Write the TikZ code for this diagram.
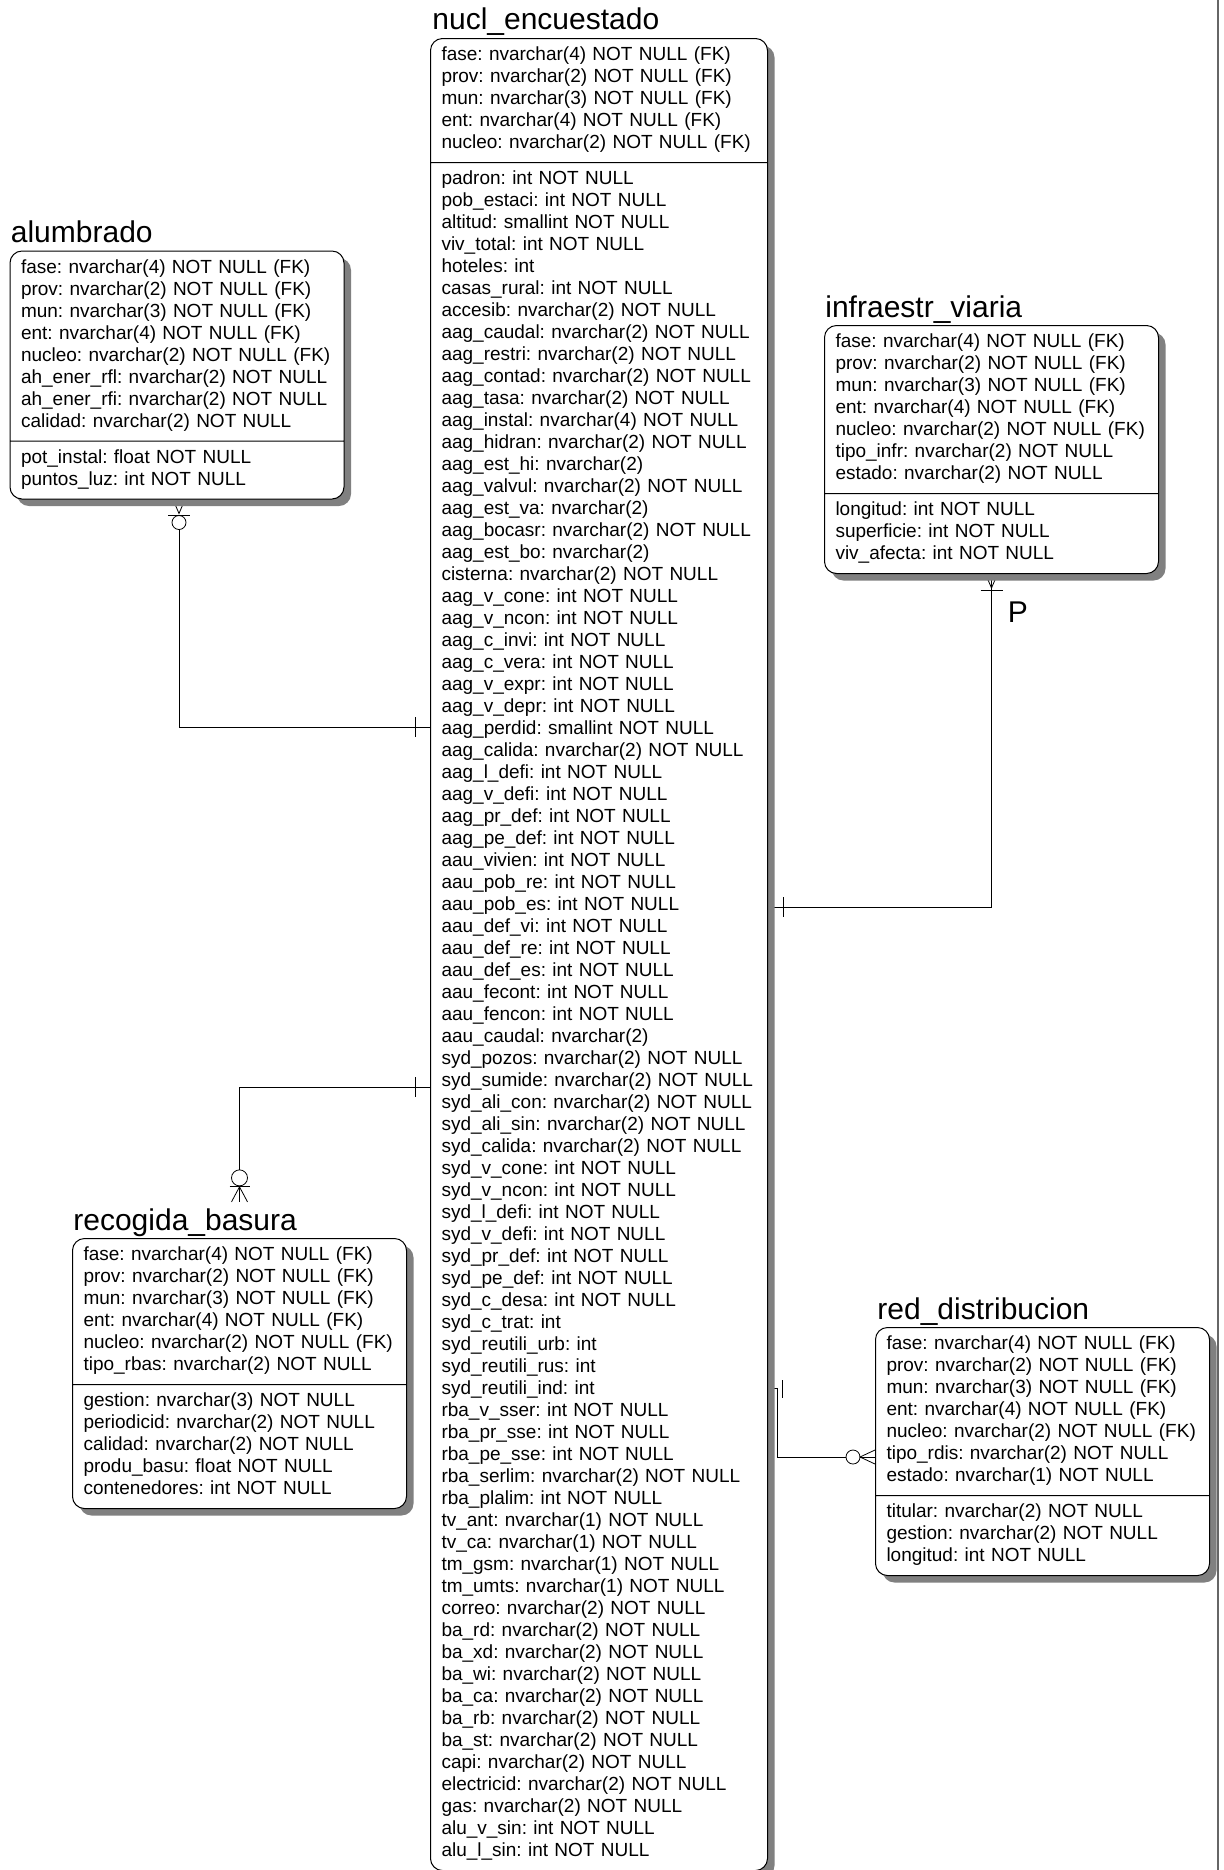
\documentclass[tikz,border=0pt]{standalone}
\usepackage{fontspec}
\setmainfont{Liberation Sans}
\usetikzlibrary{shapes.multipart,shadows,backgrounds}

\tikzset{
  entity/.style={rectangle split, rectangle split parts=2, draw=black, line width=0.5pt,
    fill=white, rounded corners=6pt, anchor=north west, align=left, text width=156pt,
    inner xsep=5.5pt, inner ysep=3.25pt, font=\fontsize{9.5}{11}\selectfont\frenchspacing,
    drop shadow={shadow xshift=3.5pt, shadow yshift=-3.5pt, fill=black!50, opacity=1}},
  etitle/.style={anchor=base west, inner sep=0pt, font=\fontsize{15}{18}\selectfont},
  rel/.style={draw=black!75, line width=0.5pt},
}

\begin{document}
\begin{tikzpicture}[x=0.5pt,y=-0.5pt,line join=round,line cap=round]
  \useasboundingbox (0,0) rectangle (1223,1870);

  % ---- le entita' ---------------------------------------------------------
  \node[entity, text width=157.5pt] (nucl) at (430,38) {\strut fase: nvarchar(4) NOT NULL (FK)\\
    prov: nvarchar(2) NOT NULL (FK)\\ mun: nvarchar(3) NOT NULL (FK)\\
    ent: nvarchar(4) NOT NULL (FK)\\ nucleo: nvarchar(2) NOT NULL (FK)\strut
    \nodepart{two}\strut padron: int NOT NULL\\ pob\_estaci: int NOT NULL\\
    altitud: smallint NOT NULL\\ viv\_total: int NOT NULL\\ hoteles: int\\
    casas\_rural: int NOT NULL\\ accesib: nvarchar(2) NOT NULL\\
    aag\_caudal: nvarchar(2) NOT NULL\\ aag\_restri: nvarchar(2) NOT NULL\\
    aag\_contad: nvarchar(2) NOT NULL\\ aag\_tasa: nvarchar(2) NOT NULL\\
    aag\_instal: nvarchar(4) NOT NULL\\ aag\_hidran: nvarchar(2) NOT NULL\\
    aag\_est\_hi: nvarchar(2)\\ aag\_valvul: nvarchar(2) NOT NULL\\
    aag\_est\_va: nvarchar(2)\\ aag\_bocasr: nvarchar(2) NOT NULL\\
    aag\_est\_bo: nvarchar(2)\\ cisterna: nvarchar(2) NOT NULL\\
    aag\_v\_cone: int NOT NULL\\ aag\_v\_ncon: int NOT NULL\\
    aag\_c\_invi: int NOT NULL\\ aag\_c\_vera: int NOT NULL\\
    aag\_v\_expr: int NOT NULL\\ aag\_v\_depr: int NOT NULL\\
    aag\_perdid: smallint NOT NULL\\ aag\_calida: nvarchar(2) NOT NULL\\
    aag\_l\_defi: int NOT NULL\\ aag\_v\_defi: int NOT NULL\\
    aag\_pr\_def: int NOT NULL\\ aag\_pe\_def: int NOT NULL\\
    aau\_vivien: int NOT NULL\\ aau\_pob\_re: int NOT NULL\\
    aau\_pob\_es: int NOT NULL\\ aau\_def\_vi: int NOT NULL\\
    aau\_def\_re: int NOT NULL\\ aau\_def\_es: int NOT NULL\\
    aau\_fecont: int NOT NULL\\ aau\_fencon: int NOT NULL\\
    aau\_caudal: nvarchar(2)\\ syd\_pozos: nvarchar(2) NOT NULL\\
    syd\_sumide: nvarchar(2) NOT NULL\\ syd\_ali\_con: nvarchar(2) NOT NULL\\
    syd\_ali\_sin: nvarchar(2) NOT NULL\\ syd\_calida: nvarchar(2) NOT NULL\\
    syd\_v\_cone: int NOT NULL\\ syd\_v\_ncon: int NOT NULL\\
    syd\_l\_defi: int NOT NULL\\ syd\_v\_defi: int NOT NULL\\
    syd\_pr\_def: int NOT NULL\\ syd\_pe\_def: int NOT NULL\\
    syd\_c\_desa: int NOT NULL\\ syd\_c\_trat: int\\ syd\_reutili\_urb: int\\
    syd\_reutili\_rus: int\\ syd\_reutili\_ind: int\\ rba\_v\_sser: int NOT NULL\\
    rba\_pr\_sse: int NOT NULL\\ rba\_pe\_sse: int NOT NULL\\
    rba\_serlim: nvarchar(2) NOT NULL\\ rba\_plalim: int NOT NULL\\
    tv\_ant: nvarchar(1) NOT NULL\\ tv\_ca: nvarchar(1) NOT NULL\\
    tm\_gsm: nvarchar(1) NOT NULL\\ tm\_umts: nvarchar(1) NOT NULL\\
    correo: nvarchar(2) NOT NULL\\ ba\_rd: nvarchar(2) NOT NULL\\
    ba\_xd: nvarchar(2) NOT NULL\\ ba\_wi: nvarchar(2) NOT NULL\\
    ba\_ca: nvarchar(2) NOT NULL\\ ba\_rb: nvarchar(2) NOT NULL\\
    ba\_st: nvarchar(2) NOT NULL\\ capi: nvarchar(2) NOT NULL\\
    electricid: nvarchar(2) NOT NULL\\ gas: nvarchar(2) NOT NULL\\
    alu\_v\_sin: int NOT NULL\\ alu\_l\_sin: int NOT NULL\strut};
  \node[etitle] (t-nucl) at (432,29) {nucl\_encuestado};

  \node[entity] (alumbrado) at (9.5,250.5) {\strut fase: nvarchar(4) NOT NULL (FK)\\
    prov: nvarchar(2) NOT NULL (FK)\\ mun: nvarchar(3) NOT NULL (FK)\\
    ent: nvarchar(4) NOT NULL (FK)\\ nucleo: nvarchar(2) NOT NULL (FK)\\
    ah\_ener\_rfl: nvarchar(2) NOT NULL\\ ah\_ener\_rfi: nvarchar(2) NOT NULL\\
    calidad: nvarchar(2) NOT NULL\strut
    \nodepart{two}\strut pot\_instal: float NOT NULL\\ puntos\_luz: int NOT NULL\strut};
  \node[etitle] (t-alum) at (10.5,242.5) {alumbrado};

  \node[entity] (infra) at (824,325) {\strut fase: nvarchar(4) NOT NULL (FK)\\
    prov: nvarchar(2) NOT NULL (FK)\\ mun: nvarchar(3) NOT NULL (FK)\\
    ent: nvarchar(4) NOT NULL (FK)\\ nucleo: nvarchar(2) NOT NULL (FK)\\
    tipo\_infr: nvarchar(2) NOT NULL\\ estado: nvarchar(2) NOT NULL\strut
    \nodepart{two}\strut longitud: int NOT NULL\\ superficie: int NOT NULL\\
    viv\_afecta: int NOT NULL\strut};
  \node[etitle] (t-infra) at (825,317) {infraestr\_viaria};

  \node[entity] (recogida) at (72,1238) {\strut fase: nvarchar(4) NOT NULL (FK)\\
    prov: nvarchar(2) NOT NULL (FK)\\ mun: nvarchar(3) NOT NULL (FK)\\
    ent: nvarchar(4) NOT NULL (FK)\\ nucleo: nvarchar(2) NOT NULL (FK)\\
    tipo\_rbas: nvarchar(2) NOT NULL\strut
    \nodepart{two}\strut gestion: nvarchar(3) NOT NULL\\ periodicid: nvarchar(2) NOT NULL\\
    calidad: nvarchar(2) NOT NULL\\ produ\_basu: float NOT NULL\\
    contenedores: int NOT NULL\strut};
  \node[etitle] (t-recog) at (73,1230) {recogida\_basura};

  \node[entity] (red) at (875,1327) {\strut fase: nvarchar(4) NOT NULL (FK)\\
    prov: nvarchar(2) NOT NULL (FK)\\ mun: nvarchar(3) NOT NULL (FK)\\
    ent: nvarchar(4) NOT NULL (FK)\\ nucleo: nvarchar(2) NOT NULL (FK)\\
    tipo\_rdis: nvarchar(2) NOT NULL\\ estado: nvarchar(1) NOT NULL\strut
    \nodepart{two}\strut titular: nvarchar(2) NOT NULL\\ gestion: nvarchar(2) NOT NULL\\
    longitud: int NOT NULL\strut};
  \node[etitle] (t-red) at (877,1319) {red\_distribucion};

  % ---- le relazioni -------------------------------------------------------
  \begin{scope}[on background layer, rel]
    % alumbrado
    \coordinate (al-s) at ([xshift=1pt]alumbrado.south);
    \coordinate (al-n) at (nucl.west |- 0,727);
    \draw ([shift={(0,30)}]al-s) |- (al-n);
    \draw ([shift={(0,23)}]al-s) circle[radius=3.5pt];
    \draw ([shift={(-11,16)}]al-s) -- ([shift={(11,16)}]al-s);
    \draw ([shift={(-6,0)}]al-s) -- ([shift={(0,14)}]al-s) -- ([shift={(6,0)}]al-s);
    \draw ([shift={(-15,-10)}]al-n) -- ([shift={(-15,10)}]al-n);

    % infraestr_viaria
    \coordinate (iv-s) at (infra.south);
    \coordinate (iv-n) at (nucl.east |- 0,907);
    \draw (iv-s) |- (iv-n);
    \draw ([shift={(-6,0)}]iv-s) -- ([shift={(0,14)}]iv-s) -- ([shift={(6,0)}]iv-s);
    \draw ([shift={(-11,16)}]iv-s) -- ([shift={(11,16)}]iv-s);
    \draw ([shift={(15,-10)}]iv-n) -- ([shift={(15,10)}]iv-n);

    % recogida_basura
    \coordinate (rb-e) at ([yshift=3pt]t-recog.north -| recogida.north);
    \coordinate (rb-n) at (nucl.west |- 0,1087);
    \draw (rb-n) -| ([shift={(0,-32)}]rb-e);
    \draw ([shift={(0,-24)}]rb-e) circle[radius=4pt];
    \draw ([shift={(-10,-15)}]rb-e) -- ([shift={(10,-15)}]rb-e);
    \draw ([shift={(-8,0)}]rb-e) -- ([shift={(0,-15)}]rb-e) -- ([shift={(8,0)}]rb-e);
    \draw ([shift={(0,-15)}]rb-e) -- (rb-e);
    \draw ([shift={(-15,-10)}]rb-n) -- ([shift={(-15,10)}]rb-n);

    % red_distribucion
    \coordinate (rd-e) at (red.west |- 0,1457);
    \coordinate (rd-n) at (nucl.east |- 0,1388);
    \draw (rd-n) -- ([xshift=4.5pt]rd-n) |- ([shift={(-29,0)}]rd-e);
    \draw ([shift={(-22,0)}]rd-e) circle[radius=3.5pt];
    \draw ([shift={(0,-7)}]rd-e) -- ([shift={(-15,0)}]rd-e) -- ([shift={(0,7)}]rd-e);
    \draw ([shift={(-15,0)}]rd-e) -- (rd-e);
    \draw ([shift={(14,-8)}]rd-n) -- ([shift={(14,10)}]rd-n);
  \end{scope}

  \node[etitle, anchor=north west] (p-infra) at ([shift={(16,27)}]infra.south) {P};

  % bordo destro
  \draw[black!60, line width=1pt] (1218,0) -- (1218,1870);
\end{tikzpicture}
\end{document}
